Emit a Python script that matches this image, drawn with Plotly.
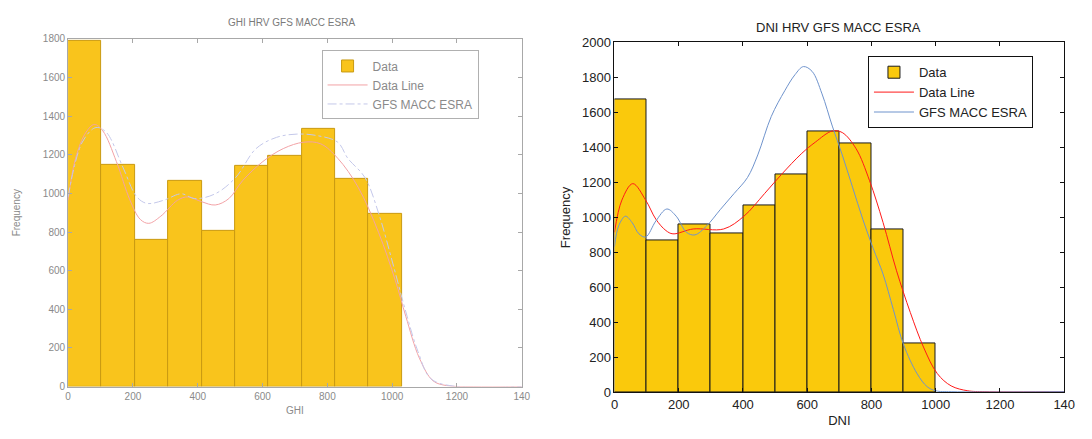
import plotly.graph_objects as go

# ---------------- data ----------------
# Left panel: GHI histogram (10 bins of ~103 W/m2)
ghi_bin_centers = [51.5, 154.5, 257.5, 360.5, 463.5, 566.5, 669.5, 772.5, 875.5, 978.5]
ghi_bin_width = 103
ghi_counts = [1790, 1150, 760, 1065, 805, 1145, 1195, 1335, 1075, 895]

ghi_line_x = [0, 23, 55, 81, 107, 149, 191, 223, 249, 286, 338, 370, 412, 454, 496, 538,
              601, 664, 727, 779, 832, 895, 958, 1010, 1042, 1084, 1126, 1168, 1250, 1400]
ghi_line_y = [965, 1182, 1316, 1357, 1324, 1165, 965, 865, 845, 882, 965, 982, 957, 940, 973, 1065,
              1165, 1232, 1265, 1257, 1182, 1032, 798, 548, 364, 147, 30, 5, 0, 0]

ghi_model_x = [0, 44, 86, 118, 170, 212, 244, 296, 349, 391, 454, 517, 580, 643, 706, 769,
               832, 863, 916, 958, 1000, 1040, 1080, 1120, 1200, 1400]
ghi_model_y = [982, 1266, 1341, 1316, 1132, 982, 948, 965, 998, 973, 998, 1082, 1232, 1290, 1307, 1299,
               1265, 1182, 1082, 898, 650, 400, 180, 40, 0, 0]

# Right panel: DNI histogram (bins of 100 W/m2)
dni_bin_centers = [50, 150, 250, 350, 450, 550, 650, 750, 850, 950]
dni_bin_width = 100
dni_counts = [1675, 866, 958, 906, 1070, 1246, 1494, 1421, 930, 279]

dni_line_x = [0, 23, 57, 97, 129, 160, 182, 245, 340, 403, 467, 520, 583, 625, 678, 709,
              752, 794, 836, 878, 921, 963, 1005, 1048, 1100, 1153, 1400]
dni_line_y = [915, 1099, 1193, 1099, 989, 925, 906, 934, 934, 1007, 1136, 1246, 1366, 1430, 1494, 1485,
              1393, 1210, 971, 695, 456, 254, 107, 37, 9, 4, 4]

dni_model_x = [0, 13, 34, 55, 76, 97, 129, 163, 192, 224, 250, 287, 329, 372, 414, 446, 488, 530,
               562, 588, 615, 646, 678, 709, 741, 773, 805, 836, 868, 900, 942, 973, 1000, 1048, 1400]
dni_model_y = [833, 952, 1007, 970, 906, 888, 980, 1048, 1007, 915, 900, 952, 1044, 1136, 1228, 1357, 1577, 1724,
               1816, 1862, 1835, 1706, 1522, 1357, 1173, 989, 824, 676, 474, 272, 107, 33, 9, 4, 4]

x_tick_vals = [0, 200, 400, 600, 800, 1000, 1200, 1400]
x_tick_text = ["0", "200", "400", "600", "800", "1000", "1200", "140"]

W, H = 1092, 439

def px(x):
    return x / W

def py(y):
    return 1 - y / H

fig = go.Figure()

# ---------------- left panel (GHI) ----------------
fig.add_trace(go.Bar(
    x=ghi_bin_centers, y=ghi_counts, width=ghi_bin_width, name="Data",
    marker=dict(color="#F9C41C", line=dict(color="#C99A12", width=1)),
    xaxis="x", yaxis="y", legend="legend2"))
fig.add_trace(go.Scatter(
    x=ghi_line_x, y=ghi_line_y, mode="lines", name="Data Line", line_shape="spline",
    line=dict(color="#F2A2A6", width=1), xaxis="x", yaxis="y", legend="legend2"))
fig.add_trace(go.Scatter(
    x=ghi_model_x, y=ghi_model_y, mode="lines", name="GFS MACC ESRA", line_shape="spline",
    line=dict(color="#C4C8EA", width=1, dash="dashdot"), xaxis="x", yaxis="y", legend="legend2"))

# ---------------- right panel (DNI) ----------------
fig.add_trace(go.Bar(
    x=dni_bin_centers, y=dni_counts, width=dni_bin_width, name="Data",
    marker=dict(color="#FAC90C", line=dict(color="#1a1a1a", width=1)),
    xaxis="x2", yaxis="y2", legend="legend"))
fig.add_trace(go.Scatter(
    x=dni_line_x, y=dni_line_y, mode="lines", name="Data Line", line_shape="spline",
    line=dict(color="#FF1A1A", width=1), xaxis="x2", yaxis="y2", legend="legend"))
fig.add_trace(go.Scatter(
    x=dni_model_x, y=dni_model_y, mode="lines", name="GFS MACC ESRA", line_shape="spline",
    line=dict(color="#6F93CC", width=1), xaxis="x2", yaxis="y2", legend="legend"))

left_font = dict(family="Liberation Sans, Arial, sans-serif", size=10, color="#8a8a8a")
right_font = dict(family="Liberation Sans, Arial, sans-serif", size=13, color="#222222")

common_axis = dict(showgrid=False, zeroline=False, showline=True, mirror="ticks",
                   ticks="inside", ticklen=4)

fig.update_layout(
    width=W, height=H,
    margin=dict(l=0, r=0, t=0, b=0),
    paper_bgcolor="white", plot_bgcolor="white",
    bargap=0,
    hovermode=False,
    xaxis=dict(domain=[px(65), px(525)], range=[0, 1400], tickvals=x_tick_vals, ticktext=x_tick_text,
               linecolor="#a8a8a8", tickcolor="#a8a8a8", tickfont=left_font, anchor="y",
               title=dict(text="GHI", font=dict(family=left_font["family"], size=10, color="#8a8a8a"), standoff=6),
               **common_axis),
    yaxis=dict(domain=[py(393), py(33)], range=[0, 1800], dtick=200,
               linecolor="#a8a8a8", tickcolor="#a8a8a8", tickfont=left_font, anchor="x",
               title=dict(text="Frequency", font=dict(family=left_font["family"], size=10, color="#8a8a8a"), standoff=20),
               **common_axis),
    xaxis2=dict(domain=[px(619), px(1075)], range=[0, 1400], tickvals=x_tick_vals, ticktext=x_tick_text,
                linecolor="#111111", tickcolor="#111111", tickfont=right_font, anchor="y2",
                title=dict(text="DNI", font=right_font, standoff=4),
                **common_axis),
    yaxis2=dict(domain=[py(399), py(36.7)], range=[0, 2000], dtick=200,
                linecolor="#111111", tickcolor="#111111", tickfont=right_font, anchor="x2",
                title=dict(text="Frequency", font=right_font, standoff=8),
                **common_axis),
    legend=dict(x=px(876), y=py(51), xanchor="left", yanchor="top",
                bgcolor="white", bordercolor="#111111", borderwidth=1,
                font=dict(family="Liberation Sans, Arial, sans-serif", size=13, color="#222222"),
                itemwidth=40, tracegroupgap=0),
    legend2=dict(x=px(322), y=py(45), xanchor="left", yanchor="top",
                 bgcolor="white", bordercolor="#b0b0b0", borderwidth=1,
                 font=dict(family="Liberation Sans, Arial, sans-serif", size=12, color="#8a8a8a"),
                 itemwidth=40, tracegroupgap=0),
    annotations=[
        dict(text="GHI HRV GFS MACC ESRA", x=px(291), y=py(16), xref="paper", yref="paper",
             showarrow=False, xanchor="center", yanchor="middle",
             font=dict(family="Liberation Sans, Arial, sans-serif", size=10, color="#7a7a7a")),
        dict(text="DNI HRV GFS MACC ESRA", x=px(846), y=py(21), xref="paper", yref="paper",
             showarrow=False, xanchor="center", yanchor="middle",
             font=dict(family="Liberation Sans, Arial, sans-serif", size=13, color="#222222")),
    ],
    showlegend=True,
)

fig.write_html("out.html", config={"displayModeBar": False},
               post_script="document.body.style.margin='0';")
